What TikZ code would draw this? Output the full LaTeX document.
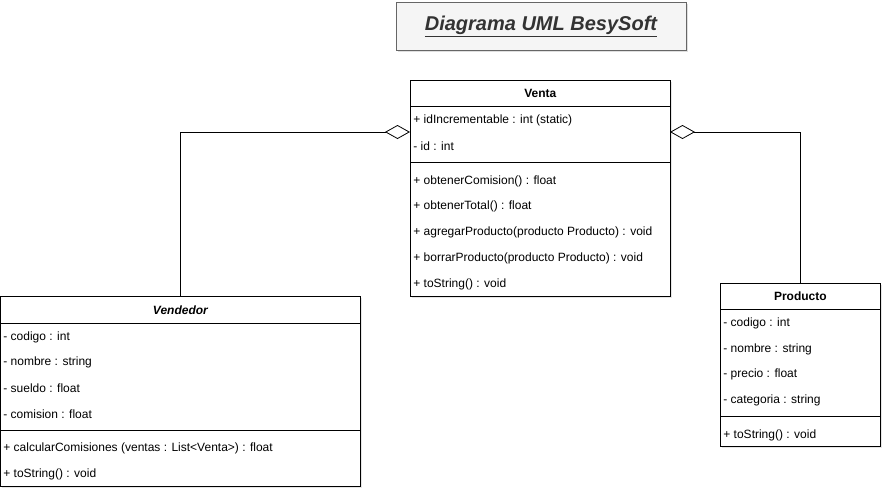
\documentclass[tikz,border=0pt]{standalone}
\usepackage{fontspec}
\setmainfont{Liberation Sans}
\usetikzlibrary{arrows.meta,shadows,calc}

\definecolor{titlegray}{HTML}{F5F5F5}
\definecolor{titleline}{HTML}{666666}
\definecolor{titletext}{HTML}{333333}

\tikzset{
  classbox/.style={draw, fill=white, anchor=north west, inner sep=0pt,
    drop shadow={opacity=0.2, shadow xshift=2pt, shadow yshift=-2pt}},
  member/.style={anchor=west, inner sep=3pt},
  header/.style={font=\fontsize{12}{14}\selectfont\bfseries},
  agg/.style={{Diamond[open,length=25pt,width=14pt]}-}
}

\begin{document}
\begin{tikzpicture}[x=1pt,y=-1pt,font=\fontsize{12}{14}\selectfont,line width=0.8pt]
\useasboundingbox (0,0) rectangle (892,501);

% title
\node[draw=titleline, fill=titlegray, text=titletext, minimum width=290pt, minimum height=48pt,
  drop shadow={opacity=0.25, shadow xshift=2pt, shadow yshift=-2pt},
  font=\fontsize{20}{24}\selectfont\bfseries\itshape] (title) at (541,26) {\underline{Diagrama UML BesySoft}};

% Venta
\node[classbox, minimum width=260pt, minimum height=216pt] (venta) at (410,80) {};
\node[header] (ventaH) at ($(venta.north)+(0,13.5)$) {Venta};
\draw (venta.north west) ++(0,26) -- ++(260,0);
\draw (venta.north west) ++(0,82) -- ++(260,0);
\foreach \y/\t in {119/{+ idIncrementable : int (static)}, 145/{- id : int},
  180/{+ obtenerComision() : float}, 205/{+ obtenerTotal() : float},
  231/{+ agregarProducto(producto Producto) : void},
  257/{+ borrarProducto(producto Producto) : void}, 283/{+ toString() : void}}
  \node[member] (venta\y) at (410,\y+1) {\t};

% Vendedor
\node[classbox, minimum width=360pt, minimum height=190pt] (vendedor) at (0,296) {};
\node[header, font=\fontsize{12}{14}\selectfont\bfseries\itshape] (vendedorH) at ($(vendedor.north)+(0,14)$) {Vendedor};
\draw (vendedor.north west) ++(0,27) -- ++(360,0);
\draw (vendedor.north west) ++(0,134) -- ++(360,0);
\foreach \y/\t in {336/{- codigo : int}, 361/{- nombre : string}, 387/{- sueldo : float},
  413/{- comision : float}, 447/{+ calcularComisiones (ventas : List<Venta>) : float},
  473/{+ toString() : void}}
  \node[member] (vendedor\y) at (0,\y+1) {\t};

% Producto
\node[classbox, minimum width=160pt, minimum height=163pt] (producto) at (720,283) {};
\node[header] (productoH) at ($(producto.north)+(0,13.5)$) {Producto};
\draw (producto.north west) ++(0,26) -- ++(160,0);
\draw (producto.north west) ++(0,133) -- ++(160,0);
\foreach \y/\t in {322/{- codigo : int}, 348/{- nombre : string}, 373/{- precio : float},
  399/{- categoria : string}, 434/{+ toString() : void}}
  \node[member] (producto\y) at (720,\y+1) {\t};

% aggregations
\coordinate (ventaL) at (410,132);
\coordinate (ventaR) at (670,132);
\draw[agg] (ventaL) -| (vendedor.north);
\draw[agg] (ventaR) -| (producto.north);

\end{tikzpicture}
\end{document}
